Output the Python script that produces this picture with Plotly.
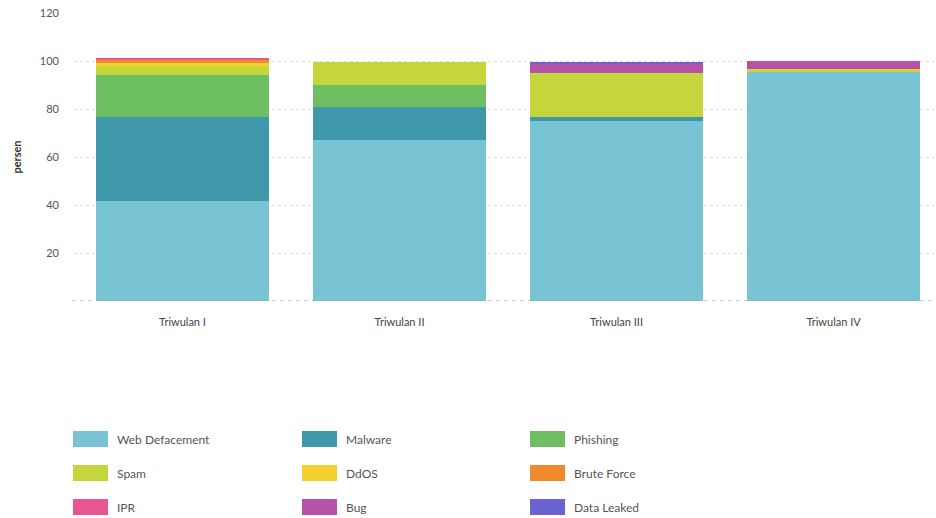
import plotly.graph_objects as go

categories = ["Triwulan I", "Triwulan II", "Triwulan III", "Triwulan IV"]
series_names = ["Web Defacement", "Malware", "Phishing", "Spam", "DdOS",
                "Brute Force", "IPR", "Bug", "Data Leaked"]
web_defacement = [41.8, 67.0, 75.2, 95.5]
malware = [35.0, 14.0, 1.5, 0.0]
phishing = [17.3, 9.0, 0.0, 0.0]
spam = [4.0, 9.5, 18.3, 1.0]
ddos = [1.2, 0.0, 0.0, 0.3]
brute_force = [1.2, 0.0, 0.0, 0.0]
ipr = [0.6, 0.0, 0.0, 0.0]
bug = [0.0, 0.0, 4.0, 3.3]
data_leaked = [0.0, 0.0, 0.6, 0.0]
series_values = [web_defacement, malware, phishing, spam, ddos,
                 brute_force, ipr, bug, data_leaked]
colors = ["#78c4d5", "#3f98a9", "#6dbf62", "#c5d63d", "#f4d02f",
          "#f08a2c", "#e7568f", "#b553a8", "#6a63d1"]
y_ticks = [0, 20, 40, 60, 80, 100, 120]

W, H = 936, 518
L, R, T, B = 74, 0, 13, 217
PW, PH = W - L - R, H - T - B

fig = go.Figure()
for name, vals, col in zip(series_names, series_values, colors):
    fig.add_trace(go.Bar(x=categories, y=vals, name=name,
                         marker=dict(color=col, line=dict(width=0)),
                         showlegend=False))

def px_x(px):
    return (px - L) / PW

def px_y(py):
    return (H - B - py) / PH

shapes = [dict(type="line", xref="paper", yref="y", x0=px_x(72), x1=1,
               y0=0, y1=0, layer="above",
               line=dict(color="#999999", width=1, dash="4px,4px"))]
annotations = []
col_x = [73, 302, 530]
row_y = [439, 473, 507]
for i, (name, col) in enumerate(zip(series_names, colors)):
    cx = col_x[i % 3]
    cy = row_y[i // 3]
    shapes.append(dict(type="rect", xref="paper", yref="paper",
                       x0=px_x(cx), x1=px_x(cx + 35),
                       y0=px_y(cy + 8), y1=px_y(cy - 8),
                       fillcolor=col, line=dict(width=0)))
    annotations.append(dict(text=name, xref="paper", yref="paper",
                            x=px_x(cx + 42), y=px_y(cy), xanchor="left",
                            yanchor="middle", showarrow=False,
                            font=dict(size=12, color="#555555", family="Lato")))

fig.update_layout(
    width=W, height=H,
    margin=dict(l=L, r=R, t=T, b=B),
    barmode="stack", bargap=0.2,
    plot_bgcolor="white", paper_bgcolor="white",
    font=dict(family="Lato", size=11, color="#555555"),
    shapes=shapes, annotations=annotations,
    xaxis=dict(range=[-0.5, 3.472], showgrid=False, showline=False,
               ticks="", tickfont=dict(size=11, color="#444444")),
    yaxis=dict(range=[0, 120], tickvals=y_ticks,
               ticktext=["" if v == 0 else str(v) for v in y_ticks],
               showgrid=True, gridcolor="#dddddd", griddash="dot",
               zeroline=False,
               ticklabelstandoff=14,
               tickfont=dict(size=11, color="#555555"),
               title=dict(text="<b>persen</b>", standoff=16,
                          font=dict(size=11, color="#333333"))),
)
fig.update_xaxes(ticklabelstandoff=13)
fig.write_html("out.html")
